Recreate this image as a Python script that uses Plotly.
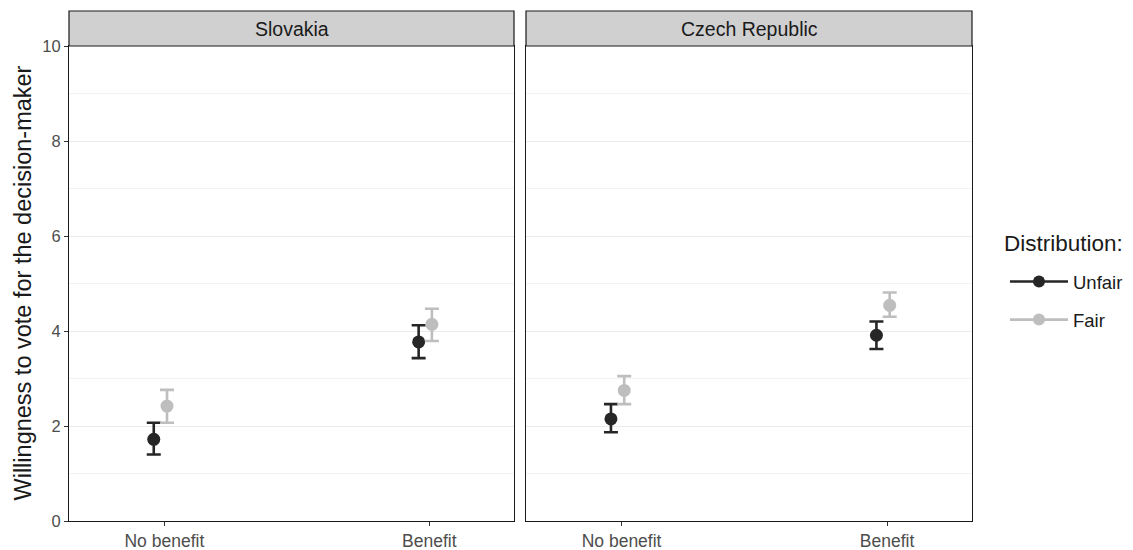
import plotly.graph_objects as go

countries = ["Slovakia", "Czech Republic"]
categories = ["No benefit", "Benefit"]
groups = ["Unfair", "Fair"]

# means[country][group] per category
unfair_mean = {"Slovakia": [1.72, 3.77], "Czech Republic": [2.15, 3.91]}
unfair_low = {"Slovakia": [1.40, 3.43], "Czech Republic": [1.87, 3.62]}
unfair_high = {"Slovakia": [2.07, 4.12], "Czech Republic": [2.46, 4.20]}
fair_mean = {"Slovakia": [2.42, 4.14], "Czech Republic": [2.75, 4.54]}
fair_low = {"Slovakia": [2.07, 3.79], "Czech Republic": [2.46, 4.30]}
fair_high = {"Slovakia": [2.76, 4.47], "Czech Republic": [3.05, 4.81]}

colors = {"Unfair": "#262626", "Fair": "#BEBEBE"}
offsets = {"Unfair": -0.04, "Fair": 0.01}
series = {
    "Unfair": (unfair_mean, unfair_low, unfair_high),
    "Fair": (fair_mean, fair_low, fair_high),
}

FONT = "Liberation Sans, Arial, Helvetica, sans-serif"
fig = go.Figure()

for ci, country in enumerate(countries):
    xa = "x" if ci == 0 else "x2"
    ya = "y" if ci == 0 else "y2"
    for g in groups:
        m, lo, hi = series[g]
        xs = [i + 1 + offsets[g] for i in range(len(categories))]
        ys = m[country]
        fig.add_trace(go.Scatter(
            x=xs, y=ys, xaxis=xa, yaxis=ya, mode="markers",
            marker=dict(color=colors[g], size=13),
            error_y=dict(type="data", symmetric=False,
                         array=[h - v for h, v in zip(hi[country], ys)],
                         arrayminus=[v - l for l, v in zip(lo[country], ys)],
                         color=colors[g], thickness=2.6, width=7),
            showlegend=False, hoverinfo="skip"))

# legend entries
for g in groups:
    fig.add_trace(go.Scatter(
        x=[None], y=[None], mode="lines+markers", name=g,
        line=dict(color=colors[g], width=2.6),
        marker=dict(color=colors[g], size=12),
        legendgroup=g))

W, H = 1125, 542
L, R, T, B = 61, 5, 38, 29
PW = W - L - R
PH = H - T - B

def px(xpix):
    return (xpix - L) / PW

axis_common = dict(showline=True, mirror=True, linecolor="#1a1a1a", linewidth=1.2,
                   zeroline=False, automargin=False)
xcommon = dict(range=[0.64, 2.32], tickvals=[1, 2], ticktext=categories,
               showgrid=False, ticks="outside", ticklen=4, tickcolor="#333333",
               tickfont=dict(size=17.5, color="#4D4D4D"))
ycommon = dict(range=[0, 10], tickvals=[0, 2, 4, 6, 8, 10], showgrid=True,
               gridcolor="#EBEBEB", gridwidth=1.1,
               minor=dict(dtick=1, tick0=0, showgrid=True, gridcolor="#F3F3F3", gridwidth=0.7))
fig.update_layout(
    width=W, height=H,
    margin=dict(l=L, r=R, t=T, b=B),
    paper_bgcolor="white", plot_bgcolor="white",
    font=dict(family=FONT, color="#1a1a1a"),
    xaxis=dict(domain=[0, px(506)], **xcommon, **axis_common),
    xaxis2=dict(domain=[px(518), px(964)], anchor="y2", **xcommon, **axis_common),
    yaxis=dict(ticks="outside", ticklen=4, tickcolor="#333333",
               tickfont=dict(size=16.5, color="#4D4D4D"), **ycommon, **axis_common),
    yaxis2=dict(showticklabels=False, anchor="x2", matches="y", **ycommon, **axis_common),
    legend=dict(x=px(997), xanchor="left", y=(513 - 293) / PH, yanchor="middle",
                font=dict(size=18.5, color="#1a1a1a"), tracegroupgap=11,
                itemwidth=58, bgcolor="rgba(0,0,0,0)"),
)

strip_top = 1 + 35 / PH
shapes = []
annotations = []
for ci, country in enumerate(countries):
    xr = "x domain" if ci == 0 else "x2 domain"
    shapes.append(dict(type="rect", xref=xr, yref="paper", x0=0, x1=1, y0=1, y1=strip_top,
                       fillcolor="#D0D0D0", line=dict(color="#1a1a1a", width=1.2), layer="above"))
    annotations.append(dict(text=country, xref=xr, yref="paper", x=0.5, y=(1 + strip_top) / 2,
                            showarrow=False, font=dict(size=19.5, color="#1a1a1a"),
                            xanchor="center", yanchor="middle"))
annotations.append(dict(text="Willingness to vote for the decision-maker", textangle=-90,
                        xref="paper", yref="paper", x=px(14), y=0.5,
                        xanchor="center", yanchor="middle", showarrow=False,
                        font=dict(size=23.5, color="#1a1a1a")))
annotations.append(dict(text="Distribution:", xref="paper", yref="paper",
                        x=px(994), y=(513 - 235) / PH,
                        xanchor="left", yanchor="middle", showarrow=False,
                        font=dict(size=22.5, color="#1a1a1a")))
fig.update_layout(shapes=shapes, annotations=annotations)

fig.write_html("out.html")
